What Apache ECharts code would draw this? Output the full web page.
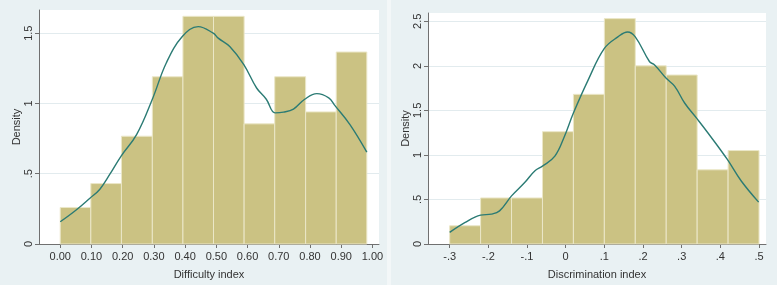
<!DOCTYPE html>
<html>
<head>
<meta charset="utf-8">
<script src="https://cdn.jsdelivr.net/npm/echarts@6/dist/echarts.min.js"></script>
<style>
  html, body { margin: 0; padding: 0; background: #e9f1f3; }
  #chart { width: 777px; height: 285px; }
</style>
</head>
<body>
<div id="chart"></div>
<script>
// histogram 1: difficulty index
const diffEdges = [0, 0.098, 0.196, 0.295, 0.393, 0.491, 0.589, 0.687, 0.786, 0.884, 0.982];
const diffHeights = [0.26, 0.43, 0.767, 1.19, 1.62, 1.62, 0.855, 1.19, 0.94, 1.366];
const diffKde = [
  [0, 0.158], [0.05, 0.24], [0.095, 0.326], [0.127, 0.39], [0.16, 0.5], [0.195, 0.626],
  [0.245, 0.78], [0.295, 1.03], [0.34, 1.29], [0.391, 1.476], [0.442, 1.547],
  [0.49, 1.5], [0.506, 1.465], [0.543, 1.405], [0.588, 1.276], [0.629, 1.11],
  [0.66, 1.03], [0.688, 0.933], [0.715, 0.938], [0.747, 0.96], [0.783, 1.03],
  [0.822, 1.07], [0.86, 1.04], [0.88, 0.985], [0.928, 0.85], [0.982, 0.654]
];
const diffXTicks = [0, 0.1, 0.2, 0.3, 0.4, 0.5, 0.6, 0.7, 0.8, 0.9, 1.0];
const diffYTicks = [0, 0.5, 1, 1.5];

// histogram 2: discrimination index
const discEdges = [-0.3, -0.22, -0.14, -0.06, 0.02, 0.1, 0.18, 0.26, 0.34, 0.42, 0.5];
const discHeights = [0.205, 0.517, 0.517, 1.261, 1.68, 2.53, 2.0, 1.897, 0.833, 1.049];
const discKde = [
  [-0.3, 0.13], [-0.261, 0.24], [-0.22, 0.324], [-0.192, 0.335], [-0.171, 0.372],
  [-0.14, 0.54], [-0.106, 0.69], [-0.08, 0.82], [-0.06, 0.874], [-0.028, 0.986],
  [-0.003, 1.21], [0.02, 1.47], [0.058, 1.84], [0.1, 2.195], [0.135, 2.325],
  [0.16, 2.38], [0.18, 2.325], [0.217, 2.046], [0.23, 2.01], [0.26, 1.86],
  [0.282, 1.77], [0.308, 1.58], [0.339, 1.41], [0.368, 1.246], [0.418, 0.949],
  [0.454, 0.707], [0.499, 0.47]
];
const discXTicks = [-0.3, -0.2, -0.1, 0, 0.1, 0.2, 0.3, 0.4, 0.5];
const discYTicks = [0, 0.5, 1, 1.5, 2, 2.5];

const font = "'Liberation Sans', Arial, sans-serif";
const barColor = '#cbc283';
const lineColor = '#2b7b74';

// stata style: .5 instead of 0.5
const stataFmt = (v) => String(+v.toFixed(2)).replace(/^(-?)0\./, '$1.');

function bins(edges, heights) {
  return heights.map((h, i) => [edges[i], edges[i + 1], h]);
}

function renderBar(params, api) {
  const p0 = api.coord([api.value(0), api.value(2)]);
  const p1 = api.coord([api.value(1), 0]);
  return {
    type: 'rect',
    shape: { x: p0[0], y: p0[1], width: p1[0] - p0[0], height: p1[1] - p0[1] },
    style: { fill: barColor, stroke: '#ebe7c8', lineWidth: 1 }
  };
}

function xAxisCfg(idx, min, max, ticks, name, fmt) {
  return {
    type: 'value', gridIndex: idx, min: min, max: max,
    name: name, nameLocation: 'middle', nameGap: 25,
    nameTextStyle: { fontFamily: font, fontSize: 11, color: '#333' },
    axisLine: { show: true, onZero: false, lineStyle: { color: '#707070', width: 1 } },
    axisTick: { show: true, customValues: ticks, length: 4, lineStyle: { color: '#707070' } },
    axisLabel: { customValues: ticks, formatter: fmt, margin: 7, fontFamily: font, fontSize: 11, color: '#333' },
    splitLine: { show: false }
  };
}

function yAxisCfg(idx, max, ticks) {
  return {
    type: 'value', gridIndex: idx, min: 0, max: max,
    name: 'Density', nameLocation: 'middle', nameGap: 16, nameRotate: 90,
    nameTextStyle: { fontFamily: font, fontSize: 11, color: '#333' },
    axisLine: { show: true, onZero: false, lineStyle: { color: '#707070', width: 1 } },
    axisTick: { show: true, customValues: ticks, length: 4, lineStyle: { color: '#707070' } },
    axisLabel: { customValues: ticks, formatter: stataFmt, rotate: 90, margin: 5, fontFamily: font, fontSize: 11, color: '#333' },
    splitLine: { show: true, lineStyle: { color: '#e2ebee', width: 1 } }
  };
}

const chart = echarts.init(document.getElementById('chart'));
chart.setOption({
  animation: false,
  backgroundColor: '#e9f1f3',
  graphic: [
    { type: 'rect', shape: { x: 387, y: 0, width: 4, height: 285 }, style: { fill: '#f3f7f8' }, z: -1 }
  ],
  grid: [
    { left: 39, top: 10, width: 340, height: 235, show: true, backgroundColor: '#fff', borderWidth: 0 },
    { left: 428, top: 13, width: 338, height: 232, show: true, backgroundColor: '#fff', borderWidth: 0 }
  ],
  xAxis: [
    xAxisCfg(0, -0.068, 1.021, diffXTicks, 'Difficulty index', (v) => v.toFixed(2)),
    xAxisCfg(1, -0.356, 0.518, discXTicks, 'Discrimination index', stataFmt)
  ],
  yAxis: [
    yAxisCfg(0, 1.665, diffYTicks),
    yAxisCfg(1, 2.593, discYTicks)
  ],
  series: [
    { type: 'custom', xAxisIndex: 0, yAxisIndex: 0, data: bins(diffEdges, diffHeights), renderItem: renderBar, encode: { x: [0, 1], y: 2 } },
    { type: 'line', xAxisIndex: 0, yAxisIndex: 0, data: diffKde, smooth: 0.4, showSymbol: false,
      lineStyle: { color: lineColor, width: 1.4 }, z: 3 },
    { type: 'custom', xAxisIndex: 1, yAxisIndex: 1, data: bins(discEdges, discHeights), renderItem: renderBar, encode: { x: [0, 1], y: 2 } },
    { type: 'line', xAxisIndex: 1, yAxisIndex: 1, data: discKde, smooth: 0.4, showSymbol: false,
      lineStyle: { color: lineColor, width: 1.4 }, z: 3 }
  ]
});
</script>
</body>
</html>
